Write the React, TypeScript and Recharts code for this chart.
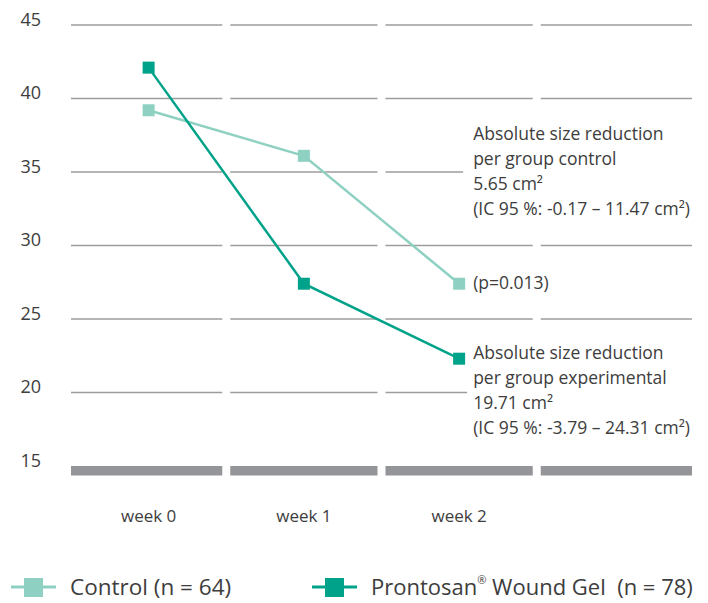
import { CartesianGrid, LabelList, Line, LineChart, XAxis, YAxis } from "recharts";

const weeks = ["week 0", "week 1", "week 2", ""];
const controlValues = [39.2, 36.1, 27.4, null];
const prontosanValues = [42.1, 27.4, 22.3, null];
const yTicks = [15, 20, 25, 30, 35, 40, 45];

const controlNote = [
  "Absolute size reduction",
  "per group control",
  "5.65 cm²",
  "(IC 95 %: -0.17 – 11.47 cm²)",
];
const experimentalNote = [
  "Absolute size reduction",
  "per group experimental",
  "19.71 cm²",
  "(IC 95 %: -3.79 – 24.31 cm²)",
];
const pValue = "(p=0.013)";

const data = weeks.map((week, i) => ({
  week,
  control: controlValues[i],
  prontosan: prontosanValues[i],
}));

const LIGHT = "#8ed1c2";
const DARK = "#00a389";
const TEXT = "#3d3d3d";
const FONT = "'Open Sans', 'Noto Sans', sans-serif";

const CHART_W = 708;
const CHART_H = 560;
const X_AXIS_H = 94;
const PLOT_BOTTOM = CHART_H - X_AXIS_H;

function GridSegments(props: any) {
  const { x1, x2, y1 } = props;
  const n = weeks.length;
  const bandW = (x2 - x1) / n;
  const gap = 4;
  const isBase = Math.abs(y1 - PLOT_BOTTOM) < 1;
  return (
    <g>
      {weeks.map((_, i) => {
        const a = x1 + i * bandW + (i > 0 ? gap : 0);
        const b = x1 + (i + 1) * bandW - (i < n - 1 ? gap : 0);
        return isBase ? (
          <rect key={i} x={a} y={y1} width={b - a} height={9.5} fill="#939598" />
        ) : (
          <line key={i} x1={a} x2={b} y1={y1} y2={y1} stroke="#9d9d9d" strokeWidth={1.4} />
        );
      })}
    </g>
  );
}

function YTick({ y, payload }: any) {
  return (
    <text x={41} y={y + 0.5} textAnchor="end" fontSize={18} fill={TEXT} fontFamily={FONT}>
      {payload.value}
    </text>
  );
}

function XTick({ x, payload }: any) {
  return (
    <text x={x} y={PLOT_BOTTOM + 55.5} textAnchor="middle" fontSize={17} fill={TEXT} fontFamily={FONT}>
      {payload.value}
    </text>
  );
}

function squareDot(color: string) {
  return (props: any) => {
    const { cx, cy, index } = props;
    if (cx == null || cy == null) return <g key={index} />;
    return <rect key={index} x={cx - 6} y={cy - 6} width={12} height={12} fill={color} />;
  };
}

function NoteLines({ x, y, lines }: { x: number; y: number; lines: string[] }) {
  return (
    <text fontSize={17.5} fill={TEXT} fontFamily={FONT}>
      {lines.map((line, i) => (
        <tspan key={i} x={x} y={y + i * 25}>
          {line}
        </tspan>
      ))}
    </text>
  );
}

function ControlLabel(props: any) {
  const { x, y, index } = props;
  if (index !== 2) return null;
  return (
    <g>
      <rect x={x + 4} y={y - 166} width={240} height={106} fill="#fff" />
      <NoteLines x={x + 14} y={y - 144} lines={controlNote} />
      <text x={x + 14} y={y + 5} fontSize={17.5} fill={TEXT} fontFamily={FONT}>
        {pValue}
      </text>
    </g>
  );
}

function ProntosanLabel(props: any) {
  const { x, y, index } = props;
  if (index !== 2) return null;
  return (
    <g>
      <rect x={x + 8} y={y - 19} width={236} height={102} fill="#fff" />
      <NoteLines x={x + 14} y={y} lines={experimentalNote} />
    </g>
  );
}

function ChartLegend() {
  return (
    <svg width={CHART_W} height={43} style={{ display: "block" }}>
      <line x1={11} x2={56} y1={27} y2={27} stroke={LIGHT} strokeWidth={3} />
      <rect x={24} y={18} width={19} height={19} fill={LIGHT} />
      <text x={70} y={35} fontSize={22.5} fill={TEXT} fontFamily={FONT}>
        Control (n = 64)
      </text>
      <line x1={312} x2={357} y1={27} y2={27} stroke={DARK} strokeWidth={3} />
      <rect x={325} y={18} width={19} height={19} fill={DARK} />
      <text x={371} y={35} fontSize={22} fill={TEXT} fontFamily={FONT} style={{ whiteSpace: "pre" }}>
        Prontosan
        <tspan fontSize={11} dy={-11}>®</tspan>
        <tspan dy={11}>{" Wound Gel  (n = 78)"}</tspan>
      </text>
    </svg>
  );
}

export default function App() {
  return (
    <div
      style={{
        position: "absolute",
        left: 0,
        top: 0,
        width: CHART_W,
        height: 603,
        background: "#fff",
        fontFamily: FONT,
      }}
    >
      <LineChart
        width={CHART_W}
        height={CHART_H}
        data={data}
        margin={{ top: 25, right: 16, bottom: 0, left: 0 }}
      >
        <CartesianGrid vertical={false} horizontal={GridSegments} />
        <XAxis
          dataKey="week"
          scale="band"
          height={X_AXIS_H}
          axisLine={false}
          tickLine={false}
          interval={0}
          tick={<XTick />}
        />
        <YAxis
          type="number"
          domain={[15, 45]}
          ticks={yTicks}
          width={71}
          axisLine={false}
          tickLine={false}
          tick={<YTick />}
        />
        <Line
          type="linear"
          dataKey="control"
          stroke={LIGHT}
          strokeWidth={2.5}
          dot={squareDot(LIGHT)}
          activeDot={false}
          isAnimationActive={false}
        >
          <LabelList dataKey="control" content={<ControlLabel />} />
        </Line>
        <Line
          type="linear"
          dataKey="prontosan"
          stroke={DARK}
          strokeWidth={2.5}
          dot={squareDot(DARK)}
          activeDot={false}
          isAnimationActive={false}
        >
          <LabelList dataKey="prontosan" content={<ProntosanLabel />} />
        </Line>
      </LineChart>
      <ChartLegend />
    </div>
  );
}
